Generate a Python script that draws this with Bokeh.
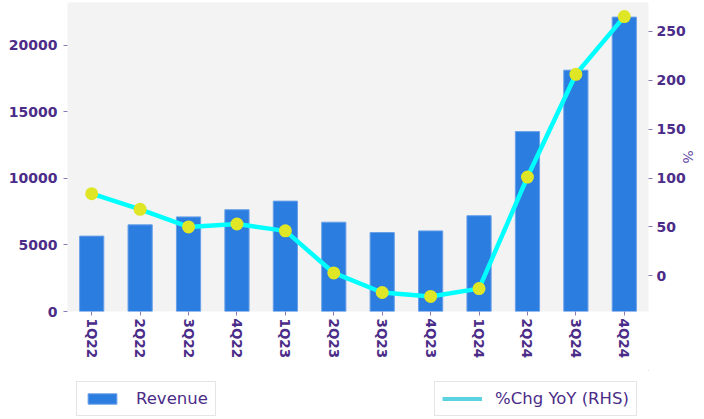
from bokeh.plotting import figure
from bokeh.layouts import column
from bokeh.models import Range1d, LinearAxis, Legend, LegendItem, FactorRange, FixedTicker
from bokeh.embed import file_html
from bokeh.resources import INLINE

quarters = ["1Q22", "2Q22", "3Q22", "4Q22", "1Q23", "2Q23", "3Q23", "4Q23",
            "1Q24", "2Q24", "3Q24", "4Q24"]
revenue = [5661, 6507, 7103, 7643, 8288, 6704, 5931, 6051, 7192, 13507, 18120, 22103]
yoy_pct = [84, 68, 50, 53, 46, 3, -17, -21, -13, 101, 206, 265]
left_ticks = [0, 5000, 10000, 15000, 20000]
right_ticks = [0, 50, 100, 150, 200, 250]

TXT = "#4b2c88"
TICK = "#8a7bb8"
FONT = "DejaVu Sans"
BAR_FILL = "#2b7de0"
BAR_EDGE = "#6aa0e8"

W = 704
p = figure(x_range=FactorRange(*quarters), y_range=Range1d(0, 23200),
           width=W, height=370, output_backend="svg", toolbar_location=None,
           min_border_left=67, min_border_right=56, min_border_top=2, min_border_bottom=59)
p.background_fill_color = "#f3f3f3"
p.border_fill_color = "white"
p.outline_line_color = None
p.xgrid.visible = False
p.ygrid.visible = False

p.extra_y_ranges = {"pct": Range1d(-36.4, 279.4)}
rax = LinearAxis(y_range_name="pct", axis_label="%")
p.add_layout(rax, "right")

bars = p.vbar(x=quarters, top=revenue, width=0.5, fill_color=BAR_FILL,
              line_color=BAR_EDGE, line_width=1)
p.line(x=quarters, y=yoy_pct, y_range_name="pct", line_color="#00ffff", line_width=4.5)
p.scatter(x=quarters, y=yoy_pct, y_range_name="pct", size=13, fill_color="#dfe626",
          line_color=None)

p.yaxis[0].ticker = FixedTicker(ticks=left_ticks)
rax.ticker = FixedTicker(ticks=right_ticks)

for ax in [p.xaxis[0], p.yaxis[0], rax]:
    ax.axis_line_color = None
    ax.major_tick_line_color = TICK
    ax.major_tick_in = 0
    ax.major_tick_out = 4
    ax.minor_tick_line_color = None
    ax.major_label_text_color = TXT
    ax.major_label_text_font = FONT
    ax.major_label_text_font_style = "bold"
    ax.major_label_text_font_size = "14px"
    ax.major_label_standoff = 5

p.yaxis[0].major_label_standoff = 6
p.xaxis[0].major_label_orientation = "vertical"
p.xaxis[0].major_label_text_font_size = "13.5px"
p.xaxis[0].major_label_standoff = 3
rax.major_label_standoff = 4
rax.axis_label_text_font = FONT
rax.axis_label_text_font_style = "normal"
rax.axis_label_text_font_size = "14px"
rax.axis_label_text_color = "#6a4fa8"
rax.axis_label_standoff = -9

# legend strip below the chart (frame aligned with the chart frame)
lp = figure(width=W, height=49, x_range=Range1d(0, 1), y_range=Range1d(0, 1),
            output_backend="svg", toolbar_location=None,
            min_border_left=67, min_border_right=56, min_border_top=0, min_border_bottom=0,
            x_axis_type=None, y_axis_type=None)
lp.outline_line_color = None
lp.xgrid.visible = False
lp.ygrid.visible = False
lp.background_fill_color = "white"
lp.border_fill_color = "white"
leg_bar = lp.vbar(x=[5], top=[5], bottom=[4], width=0.5, fill_color=BAR_FILL, line_color=BAR_EDGE)
leg_line = lp.line(x=[5, 6], y=[5, 5], line_color="#5dd3e2", line_width=4)

def mk_legend(items, x, y, gw, gh, pad, standoff):
    return Legend(items=items, location=(x, y), orientation="horizontal",
                  border_line_color="#cccccc", background_fill_color="white",
                  label_text_color=TXT, label_text_font=FONT, label_text_font_size="16.5px",
                  glyph_width=gw, glyph_height=gh, padding=pad, label_height=17,
                  label_standoff=standoff, margin=0)

lp.add_layout(mk_legend([LegendItem(label="Revenue", renderers=[leg_bar])], 9, 3, 36, 13, 7, 16))
lp.add_layout(mk_legend([LegendItem(label="%Chg YoY (RHS)", renderers=[leg_line])], 367, 3, 40, 13, 7, 13))

layout = column(p, lp, spacing=0)
open("out.html", "w").write(file_html(layout, INLINE))
